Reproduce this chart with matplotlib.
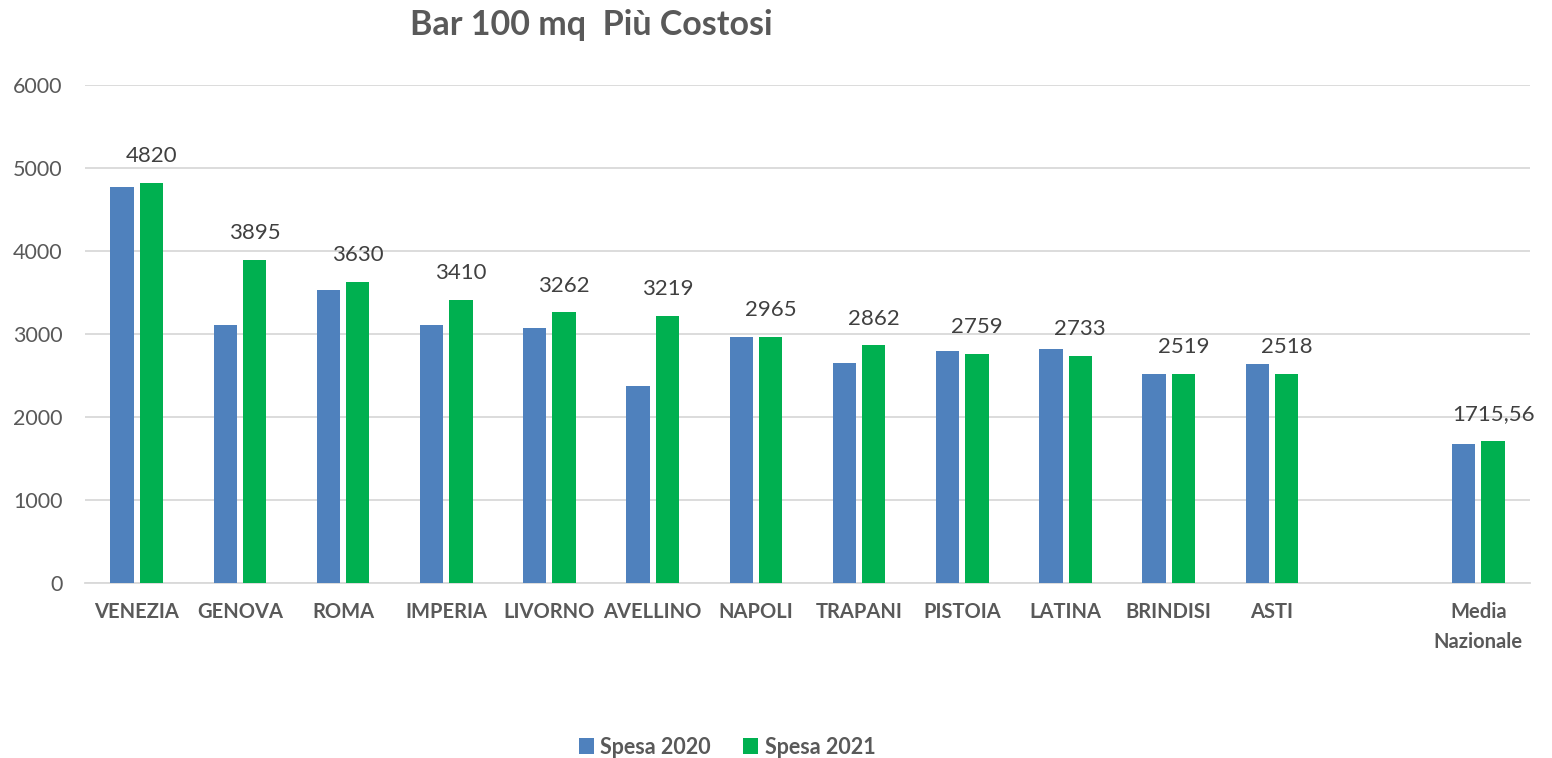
import matplotlib
matplotlib.use("Agg")
import matplotlib.pyplot as plt
import numpy as np

categories = ["VENEZIA", "GENOVA", "ROMA", "IMPERIA", "LIVORNO", "AVELLINO", "NAPOLI",
              "TRAPANI", "PISTOIA", "LATINA", "BRINDISI", "ASTI", "", "Media\nNazionale"]
spesa_2020 = [4775, 3110, 3525, 3110, 3075, 2375, 2965, 2650, 2800, 2825, 2519, 2640, np.nan, 1670]
spesa_2021 = [4820, 3895, 3630, 3410, 3262, 3219, 2965, 2862, 2759, 2733, 2519, 2518, np.nan, 1715.56]
series_names = ["Spesa 2020", "Spesa 2021"]
yticks = [0, 1000, 2000, 3000, 4000, 5000, 6000]
title = "Bar 100 mq  Più Costosi"

plt.rcParams['font.family'] = ['Lato', 'DejaVu Sans']

W, H = 1552, 758
fig = plt.figure(figsize=(W / 100, H / 100), dpi=100)
ax = fig.add_axes([85 / W, 1 - 583 / H, (1530 - 85) / W, (583 - 85) / H])

x = np.arange(len(categories))
bw = 0.226
off = 0.142
c20 = "#4F81BD"
c21 = "#00B050"
ax.bar(x - off, spesa_2020, bw, color=c20, label=series_names[0], zorder=3)
ax.bar(x + off, spesa_2021, bw, color=c21, label=series_names[1], zorder=3)

def fmt(v):
    if float(v).is_integer():
        return str(int(v))
    return f"{v:.2f}".replace(".", ",")

for xi, v in zip(x, spesa_2021):
    if np.isnan(v):
        continue
    ax.annotate(fmt(v), (xi + off, v), xytext=(0, 12), textcoords="offset points",
                ha="center", va="bottom", fontsize=16, color="#404040")

ax.set_xlim(-0.5, len(categories) - 0.5)
ax.set_ylim(0, 6000)
ax.set_yticks(yticks)
ax.set_yticklabels([str(t) for t in yticks], fontsize=15.5, color="#595959")
ax.set_xticks(x)
ax.set_xticklabels(categories, fontsize=14.5, fontweight="bold", color="#595959",
                   linespacing=1.6, va="top")
ax.tick_params(axis="both", length=0)
ax.tick_params(axis="x", pad=14)
ax.tick_params(axis="y", pad=16)
for lab in ax.get_yticklabels():
    lab.set_horizontalalignment("right")

ax.grid(axis="y", color="#D9D9D9", linewidth=1.3, zorder=0)
for s in ["top", "right", "left"]:
    ax.spines[s].set_visible(False)
ax.spines["bottom"].set_color("#D9D9D9")
ax.spines["bottom"].set_linewidth(1.3)

fig.text(591 / W, 1 - 25 / H, title, ha="center", va="center", fontsize=24.5,
         fontweight="bold", color="#595959")

leg = fig.legend(loc="center", bbox_to_anchor=(727 / W, 1 - 747 / H), ncol=2, frameon=False,
                 prop={"size": 15.5, "weight": "bold"}, handlelength=0.7, handleheight=0.7,
                 handletextpad=0.3, columnspacing=1.5)
for t in leg.get_texts():
    t.set_color("#595959")

fig.savefig("out.png", dpi=100)
